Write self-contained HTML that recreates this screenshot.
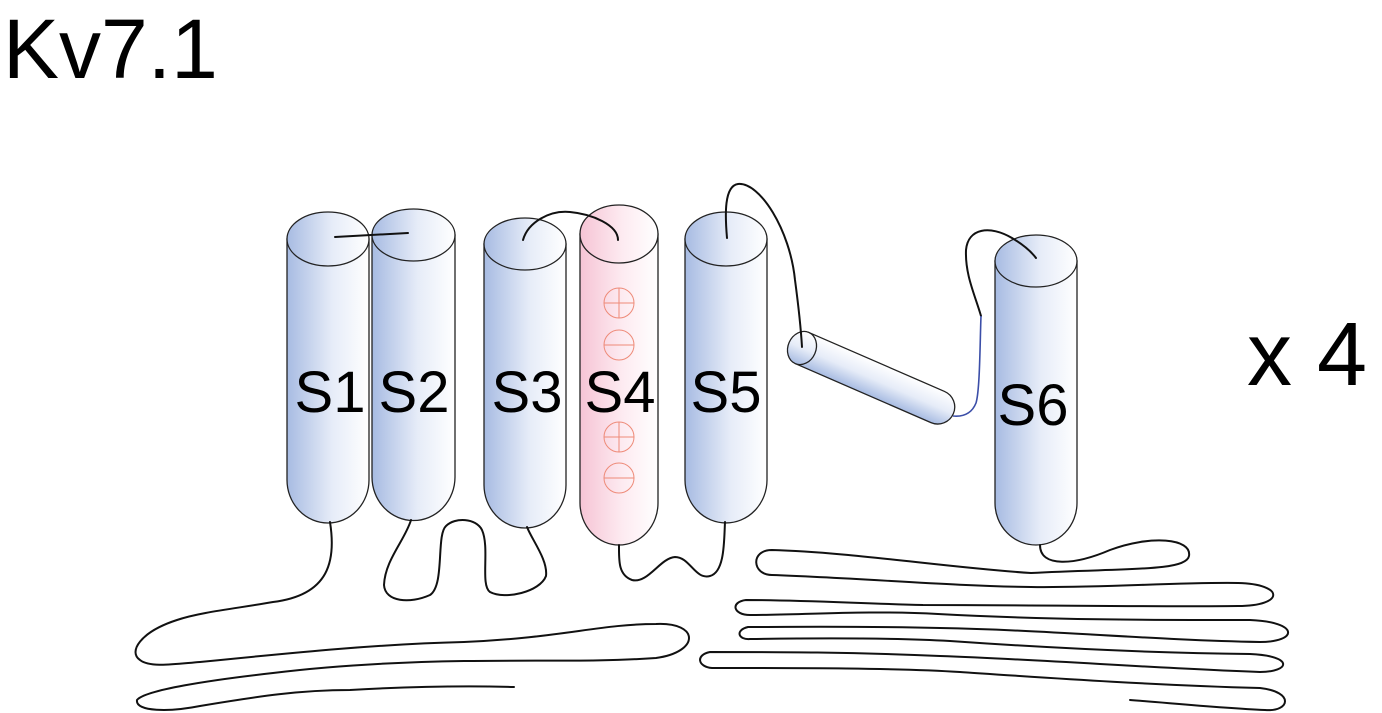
<!DOCTYPE html>
<html><head><meta charset="utf-8"><style>
html,body{margin:0;padding:0;background:#fff;}
svg{display:block;}
</style></head><body>
<svg width="1382" height="713" viewBox="0 0 1382 713" xmlns="http://www.w3.org/2000/svg">
<defs>
<linearGradient id="gb" x1="0" x2="1" y1="0" y2="0"><stop offset="0" stop-color="#a7bbe2"/><stop offset="0.55" stop-color="#e6ecf8"/><stop offset="1" stop-color="#ffffff"/></linearGradient>
<linearGradient id="gp" x1="0" x2="1" y1="0" y2="0"><stop offset="0" stop-color="#f6c4d5"/><stop offset="0.55" stop-color="#fdebf1"/><stop offset="1" stop-color="#ffffff"/></linearGradient>
<linearGradient id="gt" x1="0" x2="0" y1="0" y2="1"><stop offset="0" stop-color="#ffffff"/><stop offset="0.5" stop-color="#e6ecf8"/><stop offset="1" stop-color="#a7bbe2"/></linearGradient>
</defs>
<text x="3" y="78" font-family="Liberation Sans, sans-serif" font-size="84">Kv7.1</text>
<text x="1247" y="385" font-family="Liberation Sans, sans-serif" font-size="90">x 4</text>

<g stroke="#222" stroke-width="1.3">
<path d="M287,239 L287,480 A41,43 0 0 0 369,480 L369,239 Z" fill="url(#gb)"/>
<ellipse cx="328" cy="239" rx="41" ry="27" fill="url(#gb)"/>
<path d="M372,235 L372,477 A41,43 0 0 0 455,477 L455,235 Z" fill="url(#gb)"/>
<ellipse cx="413.5" cy="235" rx="41.5" ry="26" fill="url(#gb)"/>
<path d="M484,244 L484,485 A41,43 0 0 0 566,485 L566,244 Z" fill="url(#gb)"/>
<ellipse cx="525" cy="244" rx="41" ry="26" fill="url(#gb)"/>
<path d="M580,234 L580,503 A39,42 0 0 0 658,503 L658,234 Z" fill="url(#gp)"/>
<ellipse cx="619" cy="234" rx="39" ry="29" fill="url(#gp)"/>
<path d="M685,239 L685,480 A41,43 0 0 0 767,480 L767,239 Z" fill="url(#gb)"/>
<ellipse cx="726" cy="239" rx="41" ry="27" fill="url(#gb)"/>
<path d="M995,261 L995,503 A41,42 0 0 0 1077,503 L1077,261 Z" fill="url(#gb)"/>
<ellipse cx="1036" cy="261" rx="41" ry="26" fill="url(#gb)"/>
<g transform="translate(802,348) rotate(23.5)">
<path d="M0,-17 L148,-17 A17,17 0 0 1 148,17 L0,17 Z" fill="url(#gt)"/>
<ellipse cx="0" cy="0" rx="14" ry="17" fill="url(#gt)"/>
</g>
</g>

<g fill="none" stroke="#ee8a78" stroke-width="1">
<circle cx="619" cy="303" r="15"/><line x1="604" y1="303" x2="634" y2="303"/><line x1="619" y1="288" x2="619" y2="318"/>
<circle cx="619" cy="345" r="15"/><line x1="604" y1="345" x2="634" y2="345"/>
<circle cx="619" cy="437" r="15"/><line x1="604" y1="437" x2="634" y2="437"/><line x1="619" y1="422" x2="619" y2="452"/>
<circle cx="619" cy="478" r="15"/><line x1="604" y1="478" x2="634" y2="478"/>
</g>

<g font-family="Liberation Sans, sans-serif" font-size="58" text-anchor="middle" fill="#000">
<text x="330" y="412">S1</text>
<text x="414" y="412">S2</text>
<text x="527" y="412">S3</text>
<text x="620" y="412">S4</text>
<text x="726" y="412">S5</text>
<text x="1033" y="425">S6</text>
</g>

<g fill="none" stroke="#111" stroke-width="2" stroke-linecap="round">
<line x1="335" y1="237" x2="408" y2="233"/>
<path d="M523,240 C528,222 550,210 570,212 C592,214 618,225 618,240"/>
<path d="M727,238 C725,215 724,186 738,184 C760,182 790,230 795,280 C799,310 801,330 802,347"/>
<path d="M981,316 C975,295 965,275 966,250 C968,228 990,225 1012,238 C1022,244 1030,250 1036,258"/>
<path d="M330,522 C336,560 330,595 273,602 C240,608 200,612 177,620 C140,632 128,652 140,660 C150,668 175,664 200,662 C300,652 380,644 464,642 C560,638 600,624 656,624 C700,622 700,652 656,658 C600,662 540,660 464,661 C400,662 330,666 273,673 C210,680 145,690 137,700 C135,712 170,712 200,706 C260,696 300,690 350,690 C420,686 480,686 514,687"/>
<path d="M411,520 C405,540 385,560 384,585 C385,602 410,604 430,595 C445,585 436,535 446,526 C455,517 476,518 482,530 C490,548 480,585 490,592 C505,600 540,592 546,576 C548,560 532,540 527,527"/>
<path d="M619,545 C619,560 618,575 632,580 C648,584 660,558 675,557 C690,557 695,580 710,576 C725,572 724,540 725,522"/>
<path d="M1040,545 C1040,568 1075,565 1110,550 C1150,535 1192,538 1189,556 C1186,572 1120,568 1031,573 C950,568 850,552 772,550 C750,550 752,575 772,575 C860,578 950,586 1031,587 C1100,588 1180,582 1238,583 C1285,584 1285,606 1238,606 C1150,607 1050,605 923,605 C850,603 800,600 746,600 C730,602 733,615 750,615 C800,615 870,610 938,614 C1050,620 1150,620 1250,620 C1300,622 1298,642 1260,642 C1150,640 1050,630 940,628 C850,626 800,627 748,627 C735,630 738,640 750,639 C820,638 900,638 950,641 C1050,648 1150,653 1250,654 C1295,656 1290,672 1260,672 C1150,668 1050,660 940,656 C850,652 780,652 710,652 C695,655 698,667 712,668 C800,668 900,668 960,672 C1050,678 1150,685 1260,688 C1295,692 1290,712 1265,710 C1220,708 1170,703 1130,700"/>
</g>
<path d="M953,416 C964,417 972,413 976,403 C980,390 980,340 981,316" fill="none" stroke="#3b4ea8" stroke-width="1.6"/>
</svg>
</body></html>
